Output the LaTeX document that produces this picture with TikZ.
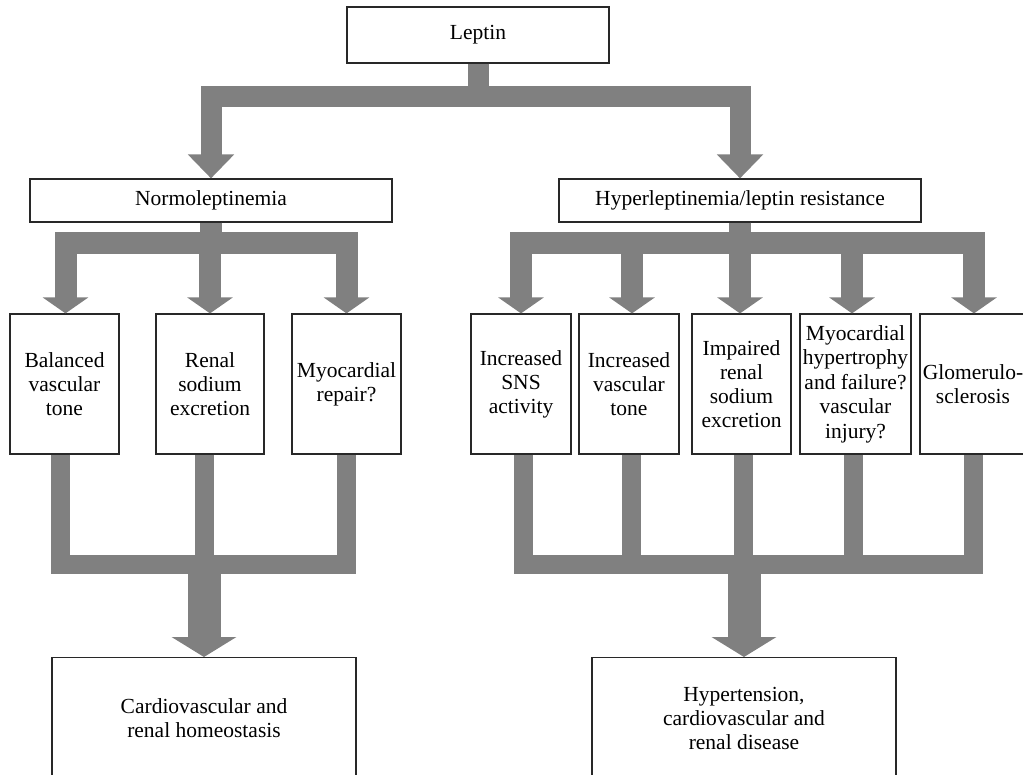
\documentclass[tikz,border=0pt]{standalone}
\usepackage{fontspec}
\setmainfont{Liberation Serif}
\usetikzlibrary{arrows.meta,calc}
\definecolor{arrgray}{RGB}{128,128,128}
\definecolor{boxline}{RGB}{40,40,40}
\tikzset{
  box/.style={draw=boxline, line width=1.2pt, align=center, inner sep=1pt,
    font=\fontsize{21.5}{24}\selectfont},
  arrA/.style={draw=arrgray, line width=21pt, -{Triangle[width=45pt,length=24pt]}},
  arrB/.style={draw=arrgray, line width=22pt, -{Triangle[width=45pt,length=16pt]}},
  dropC/.style={draw=arrgray, line width=19pt},
  arrD/.style={draw=arrgray, line width=33pt, -{Triangle[width=64pt,length=20pt]}},
}
\begin{document}
\begin{tikzpicture}[x=1pt,y=-1pt]
\useasboundingbox (0,0) rectangle (1023,775);
\clip (0,0) rectangle (1023,775);
\fill[white] (0,0) rectangle (1023,775);

% top
\node[box, minimum width=262pt, minimum height=56pt] (leptin) at (478,35) {Leptin};
\node[box, minimum width=362pt, minimum height=43pt] (normo) at (211,200.5) {Normoleptinemia};
\node[box, minimum width=362pt, minimum height=43pt] (hyper) at (740,200.5) {Hyperleptinemia/leptin resistance};

% middle row
\node[box, minimum width=109pt, minimum height=140pt] (bal) at (64.5,384) {Balanced\\vascular\\tone};
\node[box, minimum width=108pt, minimum height=140pt] (ren) at (210,384) {Renal\\sodium\\excretion};
\node[box, minimum width=109pt, minimum height=140pt] (myorep) at (346.5,384) {Myocardial\\repair?};

\node[box, minimum width=100pt, minimum height=140pt] (sns) at (521,384) {Increased\\SNS\\activity};
\node[box, minimum width=100pt, minimum height=140pt] (incv) at (629,384) {Increased\\vascular\\tone};
\node[box, minimum width=99pt, minimum height=140pt] (imp) at (741.5,384) {Impaired\\renal\\sodium\\excretion};
\node[box, minimum width=111pt, minimum height=140pt, font=\fontsize{21.5}{24.5}\selectfont] (myohyp) at (855.5,384) {Myocardial\\hypertrophy\\and failure?\\vascular\\injury?};
\node[box, minimum width=106pt, minimum height=140pt] (glom) at (973,384) {Glomerulo-\\sclerosis};

% bottom
\node[box, anchor=north, minimum width=304pt, minimum height=122pt] (homeo) at (204,657) {Cardiovascular and\\renal homeostasis};
\node[box, anchor=north, minimum width=304pt, minimum height=122pt] (disease) at (744,657) {Hypertension,\\cardiovascular and\\renal disease};

% level 1 arrows
\draw[arrA] (leptin.south) -- ++(0,32.5) -| (normo.north);
\draw[arrA] (leptin.south) -- ++(0,32.5) -| (hyper.north);

% level 2 arrows (left)
\draw[arrB] (normo.south) -- ++(0,20) -| ([xshift=1pt]bal.north);
\draw[arrB] (normo.south) -- ++(0,20) -| (ren.north);
\draw[arrB] (normo.south) -- ++(0,20) -| (myorep.north);

% level 2 arrows (right)
\draw[arrB] (hyper.south) -- ++(0,20) -| (sns.north);
\draw[arrB] (hyper.south) -- ++(0,20) -| ([xshift=3pt]incv.north);
\draw[arrB] (hyper.south) -- ++(0,20) -| ([xshift=-1.5pt]imp.north);
\draw[arrB] (hyper.south) -- ++(0,20) -| ([xshift=-3.5pt]myohyp.north);
\draw[arrB] (hyper.south) -- ++(0,20) -| ([xshift=1pt]glom.north);

% level 3 (left)
\coordinate (lbar) at (204,564);
\draw[dropC] ([xshift=-4pt]bal.south) |- (lbar) -| (myorep.south);
\draw[dropC] ([xshift=-5.5pt]ren.south) -- ([xshift=-5.5pt]ren.south |- lbar);
\draw[arrD] (lbar) -- (homeo.north);

% level 3 (right)
\coordinate (rbar) at (744,564);
\draw[dropC] ([xshift=2.5pt]sns.south) |- (rbar) -| (glom.south);
\draw[dropC] ([xshift=2.5pt]incv.south) -- ([xshift=2.5pt]incv.south |- rbar);
\draw[dropC] ([xshift=2pt]imp.south) -- ([xshift=2pt]imp.south |- rbar);
\draw[dropC] ([xshift=-2.5pt]myohyp.south) -- ([xshift=-2.5pt]myohyp.south |- rbar);
\draw[arrD] (rbar) -- (disease.north);
\end{tikzpicture}
\end{document}
